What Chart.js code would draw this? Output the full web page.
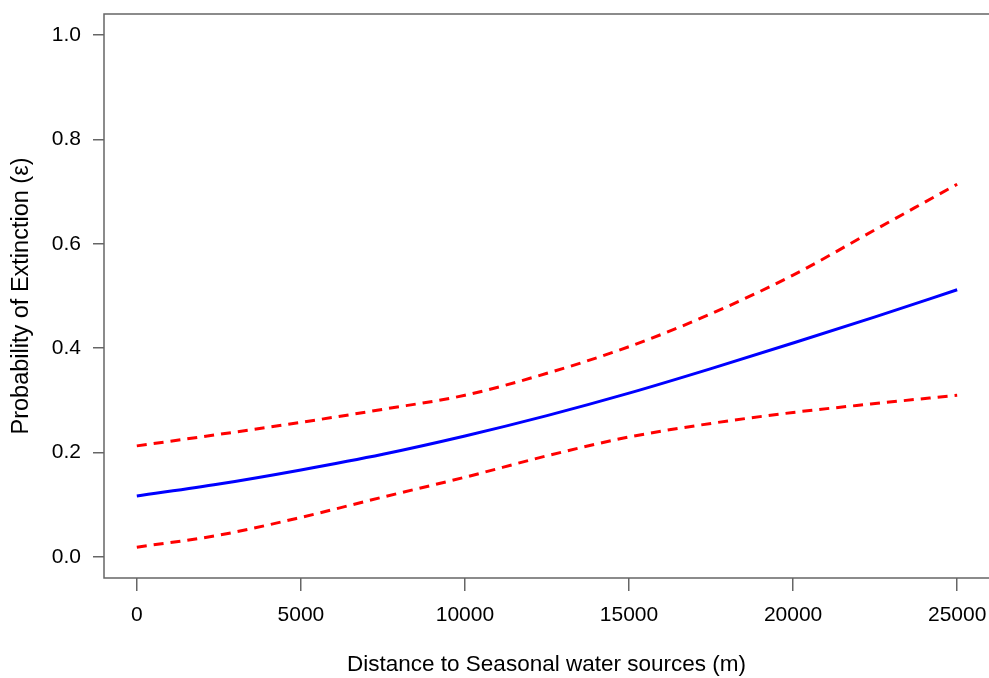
<!DOCTYPE html>
<html>
<head>
<meta charset="utf-8">
<script src="https://cdn.jsdelivr.net/npm/chart.js@4/dist/chart.umd.min.js"></script>
<style>
  html, body { margin: 0; padding: 0; background: #fff; }
  #plot { display: block; }
</style>
</head>
<body>
<canvas id="plot" width="989" height="678"></canvas>
<script>
// distance to seasonal water (m) and fitted extinction probability with 95% bounds
var distance = [0, 2500, 5000, 7500, 10000, 12500, 15000, 17500, 20000, 22500, 25000];
var probability = [0.117, 0.140, 0.167, 0.197, 0.232, 0.271, 0.314, 0.361, 0.410, 0.460, 0.512];
var upperCI = [0.213, 0.235, 0.258, 0.283, 0.310, 0.352, 0.403, 0.466, 0.540, 0.627, 0.714];
var lowerCI = [0.019, 0.042, 0.076, 0.115, 0.153, 0.194, 0.230, 0.256, 0.277, 0.294, 0.310];

var xTicks = [0, 5000, 10000, 15000, 20000, 25000];
var yTicks = [0, 0.2, 0.4, 0.6, 0.8, 1.0];

function pts(ys) {
  return distance.map(function(x, i) { return {x: x, y: ys[i]}; });
}

// R style box: top, left and bottom edges only
var boxPlugin = {
  id: 'box',
  afterDraw: function(chart) {
    var a = chart.chartArea, ctx = chart.ctx;
    ctx.save();
    ctx.strokeStyle = '#666';
    ctx.lineWidth = 1.5;
    ctx.beginPath();
    ctx.moveTo(a.right + 2, a.top);
    ctx.lineTo(a.left, a.top);
    ctx.lineTo(a.left, a.bottom);
    ctx.lineTo(a.right + 2, a.bottom);
    ctx.stroke();
    ctx.restore();
  }
};

var family = 'Liberation Sans, Arial, sans-serif';
var tickFont = {family: family, size: 21};

new Chart(document.getElementById('plot'), {
  type: 'line',
  data: {
    datasets: [
      {
        data: pts(upperCI),
        borderColor: '#ff0000',
        borderWidth: 3,
        borderDash: [10, 7],
        pointRadius: 0,
        cubicInterpolationMode: 'monotone'
      },
      {
        data: pts(lowerCI),
        borderColor: '#ff0000',
        borderWidth: 3,
        borderDash: [10, 7],
        pointRadius: 0,
        cubicInterpolationMode: 'monotone'
      },
      {
        data: pts(probability),
        borderColor: '#0000ff',
        borderWidth: 3,
        pointRadius: 0,
        cubicInterpolationMode: 'monotone'
      }
    ]
  },
  options: {
    responsive: false,
    animation: false,
    layout: {padding: {top: 14, right: 0, left: 0, bottom: 0}},
    plugins: {legend: {display: false}, tooltip: {enabled: false}},
    scales: {
      x: {
        type: 'linear',
        min: -1000,
        max: 25970,
        afterFit: function(s) {
          s.height = 100;
          s.paddingLeft = 0;
          s.paddingRight = 0;
        },
        afterBuildTicks: function(s) { s.ticks = xTicks.map(function(v) { return {value: v}; }); },
        grid: {drawOnChartArea: false, tickLength: 13, color: '#666', lineWidth: 1.5},
        border: {display: false},
        ticks: {
          color: '#000',
          font: tickFont,
          padding: 12,
          maxRotation: 0,
          callback: function(v) { return String(v); }
        },
        title: {
          display: true,
          text: 'Distance to Seasonal water sources (m)',
          color: '#000',
          font: {family: family, size: 22.5},
          padding: {top: 0, bottom: 0}
        }
      },
      y: {
        min: -0.04,
        max: 1.04,
        afterFit: function(s) {
          s.width = 104;
          s.paddingTop = 0;
          s.paddingBottom = 0;
        },
        afterBuildTicks: function(s) { s.ticks = yTicks.map(function(v) { return {value: v}; }); },
        grid: {drawOnChartArea: false, tickLength: 11, color: '#666', lineWidth: 1.5},
        border: {display: false},
        ticks: {
          color: '#000',
          font: tickFont,
          padding: 12,
          callback: function(v) { return v.toFixed(1); }
        },
        title: {
          display: true,
          text: 'Probability of Extinction (\u03b5)',
          color: '#000',
          font: {family: family, size: 23.5},
          padding: {top: 7, bottom: 0}
        }
      }
    }
  },
  plugins: [boxPlugin]
});
</script>
</body>
</html>
